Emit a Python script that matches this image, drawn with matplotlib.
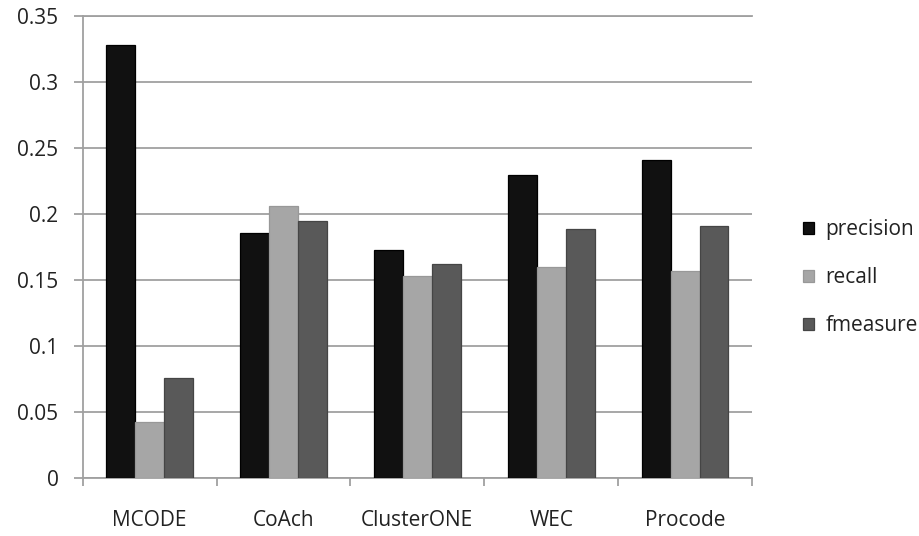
import numpy as np
import matplotlib
matplotlib.use('Agg')
import matplotlib.pyplot as plt
from matplotlib.ticker import FuncFormatter, MultipleLocator

plt.rcParams['font.family'] = ['Open Sans', 'DejaVu Sans']

# Scores per method
methods = ['MCODE', 'CoAch', 'ClusterONE', 'WEC', 'Procode']
precision = [0.328, 0.186, 0.173, 0.230, 0.241]
recall = [0.043, 0.206, 0.153, 0.160, 0.157]
fmeasure = [0.076, 0.195, 0.162, 0.189, 0.191]

series = [('precision', precision, '#111111', '#000000'),
          ('recall', recall, '#a6a6a6', '#989898'),
          ('fmeasure', fmeasure, '#595959', '#454545')]

fig = plt.figure(figsize=(9.2, 5.36), dpi=100)
ax = fig.add_axes([0.0899, 0.1073, 0.8174 - 0.0899, 0.970 - 0.1073])

x = np.arange(len(methods))
w = 0.216
for i, (name, vals, fc, ec) in enumerate(series):
    ax.bar(x + (i - 1) * w, vals, w, color=fc, edgecolor=ec, linewidth=0.9,
           label=name, zorder=3)

ax.set_xlim(-0.5, len(methods) - 0.5)
ax.set_ylim(0, 0.35)
ax.yaxis.set_major_locator(MultipleLocator(0.05))
ax.yaxis.set_major_formatter(FuncFormatter(lambda v, p: '%g' % round(v, 2)))
ax.yaxis.grid(True, color='#a0a0a0', linewidth=1.3, zorder=0)
ax.axhline(0.35, color='#a0a0a0', linewidth=1.3, clip_on=False, zorder=0)
ax.set_axisbelow(True)

for s in ['top', 'right']:
    ax.spines[s].set_visible(False)
for s in ['left', 'bottom']:
    ax.spines[s].set_color('#a0a0a0')
    ax.spines[s].set_linewidth(1.3)

ax.set_xticks(x)
ax.set_xticklabels(methods)
ax.set_xticks(np.arange(len(methods) + 1) - 0.5, minor=True)
ax.tick_params(axis='x', which='major', length=0, pad=23, labelsize=15,
               labelcolor='#222222')
ax.tick_params(axis='x', which='minor', length=6, width=1.3, color='#a0a0a0',
               direction='out')
ax.tick_params(axis='y', length=6.5, width=1.3, color='#a0a0a0', pad=11,
               labelsize=15, labelcolor='#222222')

ax.legend(loc='center left', bbox_to_anchor=(0.862, 0.482),
          bbox_transform=fig.transFigure, frameon=False, fontsize=15,
          handlelength=0.5, handleheight=0.5, handletextpad=0.55,
          labelspacing=1.3, borderpad=0, labelcolor='#222222')

fig.savefig('out.png', dpi=100)
